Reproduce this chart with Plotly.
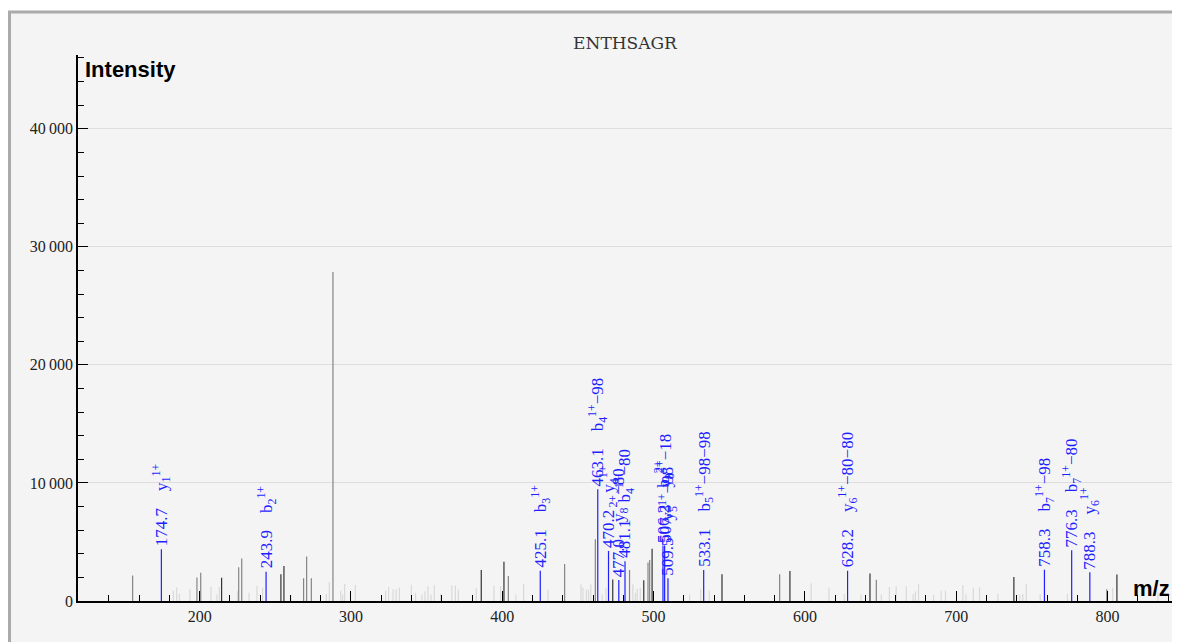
import plotly.graph_objects as go

# annotated fragment peaks (blue)
ion_mz = [174.7, 243.9, 425.1, 463.1, 470.2, 477.0, 481.1, 506.2, 507.3, 509.5, 533.1, 628.2, 758.3, 776.3, 788.3]
ion_int = [4380, 2480, 2570, 9460, 4240, 1780, 3360, 4700, 4700, 1920, 2620, 2560, 2650, 4300, 2430]
ion_label = [
    "y<sub>1</sub><sup>1+</sup>",
    "b<sub>2</sub><sup>1+</sup>",
    "b<sub>3</sub><sup>1+</sup>",
    "b<sub>4</sub><sup>1+</sup>\u221298",
    "y<sub>4</sub><sup>1+</sup>",
    "y<sub>8</sub><sup>2+</sup>\u221280",
    "b<sub>4</sub><sup>1+</sup>\u221280",
    "b<sub>8</sub><sup>2+</sup>",
    "y<sub>8</sub><sup>2+</sup>\u221218",
    "y<sub>5</sub><sup>1+</sup>\u221298",
    "b<sub>5</sub><sup>1+</sup>\u221298\u221298",
    "y<sub>6</sub><sup>1+</sup>\u221280\u221280",
    "b<sub>7</sub><sup>1+</sup>\u221298",
    "b<sub>7</sub><sup>1+</sup>\u221280",
    "y<sub>6</sub><sup>1+</sup>",
]

# unassigned peaks, dark
dark_mz = [214.5, 253.7, 255.7, 386.1, 401.1, 473.0, 493.5, 499.0, 545.2, 590.1, 643.0, 738.1, 806.2]
dark_int = [1960, 2260, 2960, 2630, 3330, 1820, 1750, 4430, 2260, 2540, 2340, 2030, 2250]

# unassigned peaks, medium grey
mid_mz = [155.7, 198.2, 200.7, 225.8, 227.8, 268.7, 270.7, 273.8, 288.1, 404.0, 441.2, 461.5,
          484.1, 496.3, 497.4, 583.3, 647.2, 799.5]
mid_int = [2170, 2000, 2400, 2850, 3610, 1920, 3780, 1920, 27870, 2120, 3130, 5230,
           2630, 3260, 3470, 2260, 1810, 1000]

# unassigned peaks, faint
light_mz = [182.6, 184.8, 186.6, 193.6, 207.5, 211.4, 213.0, 225.0, 232.6, 237.9, 241.6, 260.3,
            283.7, 285.7, 293.2, 294.5, 295.8, 302.9, 322.9, 324.9, 327.8, 329.8, 332.0, 339.9,
            342.7, 346.9, 348.9, 350.9, 352.9, 355.1, 359.3, 366.7, 369.0, 371.0, 382.8, 394.5,
            398.9, 409.0, 414.1, 430.2, 452.0, 453.3, 455.6, 457.0, 458.5, 466.0, 468.5, 486.3,
            488.0, 489.2, 491.2, 523.8, 531.1, 536.8, 604.1, 615.9, 626.0, 637.0, 650.5, 655.8,
            660.3, 667.0, 671.5, 673.0, 675.1, 685.0, 690.0, 692.9, 704.4, 706.5, 711.3, 715.4,
            727.5, 742.0, 744.0, 746.3, 755.5, 773.5, 803.4, 833.3]
light_int = [870, 1160, 590, 990, 1180, 560, 1180, 820, 700, 1300, 1130, 500,
             590, 1600, 870, 550, 1460, 1350, 870, 1180, 990, 990, 1130, 1380,
             700, 550, 820, 1240, 530, 1330, 620, 1330, 1300, 960, 1100, 1300,
             1270, 550, 1470, 960, 1410, 1130, 960, 960, 1410, 550, 1100, 1410,
             700, 1040, 1130, 550, 990, 900, 1500, 1150, 600, 550, 560, 1180,
             1240, 1240, 600, 800, 1440, 500, 870, 870, 1350, 550, 1120, 1170,
             620, 550, 600, 1450, 600, 600, 1100, 730]


def sticks(mz, inten):
    xs, ys = [], []
    for m, i in zip(mz, inten):
        xs += [m, m, None]
        ys += [0, i, None]
    return xs, ys


fig = go.Figure()
for mz, inten, col in [(light_mz, light_int, "#d9d9d9"),
                       (mid_mz, mid_int, "#858585"),
                       (dark_mz, dark_int, "#333333"),
                       (ion_mz, ion_int, "#1f1fff")]:
    xs, ys = sticks(mz, inten)
    fig.add_trace(go.Scatter(x=xs, y=ys, mode="lines", line=dict(color=col, width=1.2),
                             hoverinfo="skip", showlegend=False))

# peak labels, rotated
for m, i, lab in zip(ion_mz, ion_int, ion_label):
    fig.add_annotation(x=m, y=i, text=f"{m:.1f}\u00a0\u00a0\u00a0\u00a0{lab}", textangle=-90,
                       showarrow=False, xanchor="center", yanchor="bottom", yshift=1,
                       font=dict(family="Liberation Serif", size=17, color="#1f1fff"))

tick_font = dict(family="Liberation Serif", size=16, color="#222")
fig.update_xaxes(range=[119.6, 842.6], dtick=100, ticks="inside", ticklen=10, tickcolor="black",
                 showline=True, linecolor="black", linewidth=1.5, showgrid=False, zeroline=False,
                 tickfont=tick_font,
                 minor=dict(dtick=20, ticks="inside", ticklen=6, tickcolor="black", showgrid=False))
fig.update_yaxes(range=[0, 46250], tickvals=[0, 10000, 20000, 30000, 40000], ticks="inside",
                 ticklen=10, tickcolor="black", showline=True, linecolor="black", linewidth=1.5,
                 showgrid=True, gridcolor="#dddddd", zeroline=False, tickfont=tick_font,
                 separatethousands=True, tickformat=",d",
                 minor=dict(dtick=2000, ticks="inside", ticklen=6, tickcolor="black", showgrid=False))

# outer frame (page body adds 8px offset)
fig.add_shape(type="rect", xref="paper", yref="paper",
              x0=(1.5 - 70) / 1094, x1=(1178.5 - 70) / 1094,
              y0=(593 - 640) / 546, y1=(593 - 4) / 546, fillcolor="#f4f4f4",
              line=dict(color="#aaaaaa", width=3), layer="below")

fig.add_annotation(xref="paper", yref="paper", x=0.005, y=1.0, xanchor="left", yanchor="top",
                   text="<b>Intensity</b>", showarrow=False,
                   font=dict(family="Liberation Sans", size=22, color="black"))
fig.add_annotation(xref="paper", yref="paper", x=1.0, y=0, xanchor="right", yanchor="bottom",
                   text="<b>m/z</b>", showarrow=False, yshift=-2,
                   font=dict(family="Liberation Sans", size=22, color="black"))

fig.update_layout(
    width=1180, height=642,
    margin=dict(l=70, r=16, t=47, b=49),
    paper_bgcolor="white", plot_bgcolor="#f4f4f4",
    separators=".\u2009",
    title=dict(text="ENTHSAGR", x=0.5, xref="paper", y=1 - 35 / 642, yanchor="middle",
               font=dict(family="DejaVu Serif", size=17, color="#333")),
)

fig.write_html("out.html")
